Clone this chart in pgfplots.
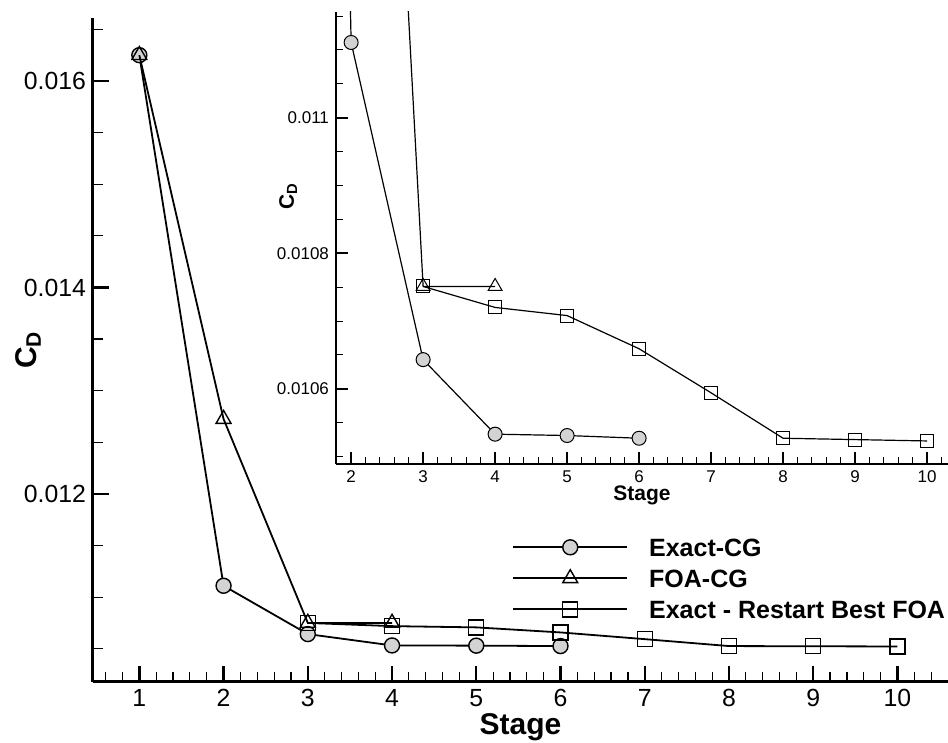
\documentclass[border=0pt]{standalone}
\usepackage{fontspec}
\setmainfont{Liberation Sans}
\usepackage{pgfplots}
\pgfplotsset{compat=1.18}
\definecolor{cfill}{RGB}{211,211,211}
\begin{document}
\begin{tikzpicture}
\pgfplotsset{
  every axis/.append style={
    /pgf/number format/assume math mode=true,
    axis x line*=bottom, axis y line*=left,
    tick align=inside, scaled y ticks=false,
    clip marker paths=true,
  },
}
\begin{axis}[
  name=main, at={(0pt,0pt)}, anchor=south west,
  width=427.5pt, height=332pt, scale only axis,
  xmin=0.45, xmax=10.6, ymin=0.010179, ymax=0.01661,
  axis line style={line width=1.5pt,-},
  xtick={1,2,3,4,5,6,7,8,9,10},
  minor xtick={0.6,0.8,...,10.4},
  ytick={0.012,0.014,0.016},
  minor ytick={0.0105,0.011,0.0115,0.0125,0.013,0.0135,0.0145,0.015,0.0155,0.0165},
  major tick length=8pt, minor tick length=5pt,
  every major tick/.append style={line width=1.2pt,black},
  every minor tick/.append style={line width=0.6pt,black},
  tick label style={font=\fontsize{12.4}{14}\selectfont},
  y tick label style={/pgf/number format/fixed,/pgf/number format/precision=3},
  xlabel={\fontsize{15}{17}\selectfont\bfseries Stage},
  ylabel={\fontsize{15}{17}\selectfont\bfseries C\textsubscript{D}},
  every axis x label/.style={at={(axis description cs:0.5,-0.068)},anchor=center},
  every axis y label/.style={at={(axis description cs:-0.076,0.5)},anchor=center,rotate=90},
  legend style={at={(0.49,0.217)}, anchor=north west, draw=none, fill=none,
    font=\bfseries\fontsize{12.5}{14}\selectfont, inner sep=0pt,
    nodes={inner sep=0pt, text height=9pt, text depth=0pt, anchor=west},
    row sep=6.5pt,
    /tikz/every odd column/.append style={column sep=10.5pt}},
  legend cell align=left,
  legend image code/.code={\draw[mark repeat=2,mark phase=2] plot coordinates {(0pt,0pt)(28.5pt,0pt)(57pt,0pt)};},
]
\addplot[black, line width=0.9pt, mark=*, mark size=3.75pt, mark options={fill=cfill,draw=black,line width=0.7pt}]
  coordinates {(1,0.01625)(2,0.011111)(3,0.010643)(4,0.010533)(5,0.010531)(6,0.010527)};
\addlegendentry{Exact-CG}
\addplot[black, line width=0.9pt, mark=triangle, mark size=4.3pt, mark options={draw=black,line width=0.7pt}]
  coordinates {(1,0.01625)(2,0.012726)(3,0.010751)(4,0.010751)};
\addlegendentry{FOA-CG}
\addplot[black, line width=0.9pt, mark=square, mark size=3.75pt, mark options={draw=black,line width=0.7pt}]
  coordinates {(3,0.010751)(4,0.01072)(5,0.010708)(6,0.010659)(7,0.010594)(8,0.010527)(9,0.010525)(10,0.010523)};
\addlegendentry{Exact - Restart Best FOA}
\end{axis}
\begin{axis}[
  at={(121.5pt,109pt)}, anchor=south west,
  width=306pt, height=226pt, scale only axis,
  xmin=1.79, xmax=10.29, ymin=0.010489, ymax=0.011156,
  axis line style={line width=1pt,-},
  xtick={2,3,4,5,6,7,8,9,10},
  minor xtick={1.8,2.0,...,10.2},
  ytick={0.0106,0.0108,0.011},
  minor ytick={0.0105,0.01055,0.01065,0.0107,0.01075,0.01085,0.0109,0.01095,0.01105,0.0111,0.01115},
  major tick length=6pt, minor tick length=3.5pt,
  every major tick/.append style={line width=1pt,black},
  every minor tick/.append style={line width=0.5pt,black},
  tick label style={font=\fontsize{8.5}{10}\selectfont},
  y tick label style={/pgf/number format/fixed,/pgf/number format/precision=4},
  xlabel={\fontsize{10.5}{12}\selectfont\bfseries Stage},
  ylabel={\fontsize{10.5}{12}\selectfont\bfseries C\textsubscript{D}},
  every axis x label/.style={at={(axis description cs:0.5,-0.069)},anchor=center},
  every axis y label/.style={at={(axis description cs:-0.078,0.593)},anchor=center,rotate=90},
]
\addplot[black, line width=0.6pt, mark=*, mark size=3.5pt, mark options={fill=cfill,draw=black,line width=0.5pt}]
  coordinates {(1,0.01625)(2,0.011111)(3,0.010643)(4,0.010533)(5,0.010531)(6,0.010527)};
\addplot[black, line width=0.6pt, mark=triangle, mark size=4pt, mark options={draw=black,line width=0.5pt}]
  coordinates {(1,0.01625)(2,0.012726)(3,0.010751)(4,0.010751)};
\addplot[black, line width=0.6pt, mark=square, mark size=3.25pt, mark options={draw=black,line width=0.5pt}]
  coordinates {(3,0.010751)(4,0.01072)(5,0.010708)(6,0.010659)(7,0.010594)(8,0.010527)(9,0.010525)(10,0.010523)};
\end{axis}
\pgfresetboundingbox
\path[use as bounding box] (-46.5pt,-30.5pt) rectangle (427.5pt,341pt);
\end{tikzpicture}
\end{document}
